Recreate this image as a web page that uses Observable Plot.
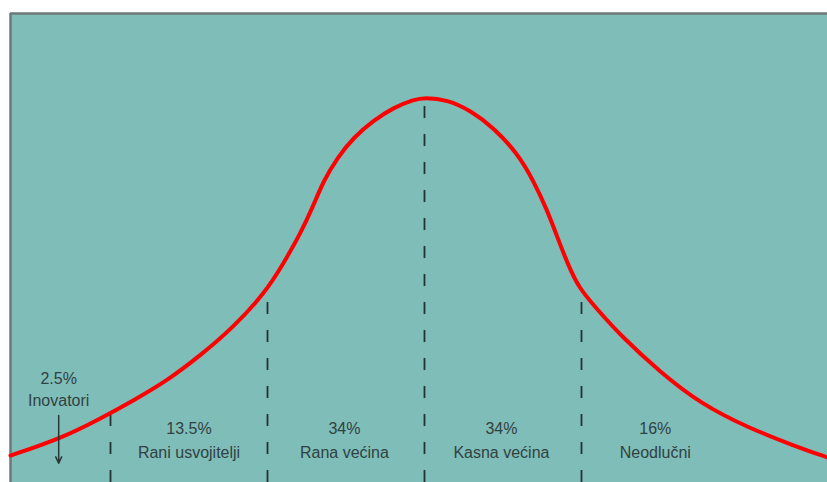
<!DOCTYPE html>
<html>
<head>
<meta charset="utf-8">
<script src="https://cdn.jsdelivr.net/npm/d3@7"></script>
<script src="https://cdn.jsdelivr.net/npm/@observablehq/plot@0.6"></script>
<style>
  html, body { margin: 0; padding: 0; background: #ffffff; }
  #chart { width: 827px; height: 482px; }
</style>
</head>
<body>
<div id="chart"></div>
<script>
// Curve: x in standard deviations, y relative height (peak = 1)
const curveX = [-2.637, -2.318, -2.064, -1.854, -1.637, -1.427, -1.217, -1.013, -0.898, -0.790, -0.713, -0.643, -0.554, -0.452, -0.325, -0.197, -0.070, 0.0, 0.146, 0.293, 0.439, 0.592, 0.694, 0.783, 0.847, 0.911, 0.981, 1.102, 1.248, 1.503, 1.758, 2.057, 2.350, 2.567];
const curveY = [0.070, 0.114, 0.166, 0.213, 0.265, 0.330, 0.403, 0.494, 0.569, 0.647, 0.714, 0.784, 0.844, 0.896, 0.940, 0.974, 0.994, 1.000, 0.994, 0.966, 0.922, 0.855, 0.784, 0.706, 0.636, 0.569, 0.506, 0.449, 0.382, 0.286, 0.205, 0.143, 0.096, 0.065];

// Dashed dividers (standard deviations) and where they meet the curve
const dividerX = [-2, -1, 0, 1];
const dividerTop = [0.178, 0.500, 0.997, 0.500];

// Segment labels
const segPercent = ["13.5%", "34%", "34%", "16%"];
const segName = ["Rani usvojitelji", "Rana većina", "Kasna većina", "Neodlučni"];
const segX = [-1.50, -0.51, 0.49, 1.47];

// Innovators label + arrow
const innovPercent = "2.5%";
const innovName = "Inovatori";
const innovX = -2.33;

const curve = curveX.map((x, i) => ({x, y: curveY[i]}));
const dividers = dividerX.map((x, i) => ({x, top: dividerTop[i]}));
const segs = segX.map((x, i) => ({x, p: segPercent[i], n: segName[i]}));

const teal = "#7fbdb9";
const textColor = "#304242";
const font = "Liberation Sans, Arial, sans-serif";

const plot = Plot.plot({
  width: 827,
  height: 482,
  marginLeft: 10,
  marginTop: 13,
  marginRight: 0,
  marginBottom: 0,
  style: { background: "#ffffff", fontFamily: font },
  x: { domain: [-2.637, 2.567], axis: null },
  y: { domain: [0, 1.218], axis: null },
  marks: [
    Plot.frame({ fill: teal, stroke: null }),
    Plot.ruleY([1.218], { stroke: "#6f7878", strokeWidth: 2.5 }),
    Plot.ruleX([-2.637], { stroke: "#6f7878", strokeWidth: 2.5 }),
    Plot.ruleX(dividers, {
      x: "x", y1: 0, y2: "top",
      stroke: "#223333", strokeWidth: 1.8, strokeDasharray: "12,16"
    }),
    Plot.line(curve, {
      x: "x", y: "y", curve: "basis",
      stroke: "#ff0000", strokeWidth: 4
    }),
    Plot.text(segs, {
      x: "x", y: 0.140, text: "p",
      fill: textColor, fontSize: 16, fontFamily: font
    }),
    Plot.text(segs, {
      x: "x", y: 0.078, text: "n",
      fill: textColor, fontSize: 16, fontFamily: font
    }),
    Plot.text([innovPercent], {
      x: innovX, y: 0.270, text: d => d,
      fill: textColor, fontSize: 16, fontFamily: font
    }),
    Plot.text([innovName], {
      x: innovX, y: 0.213, text: d => d,
      fill: textColor, fontSize: 16, fontFamily: font
    }),
    Plot.arrow([innovName], {
      x1: innovX, y1: 0.174, x2: innovX, y2: 0.050,
      stroke: "#2a3636", strokeWidth: 1.5, headLength: 7, headAngle: 50
    })
  ]
});
document.getElementById("chart").appendChild(plot);
</script>
</body>
</html>
